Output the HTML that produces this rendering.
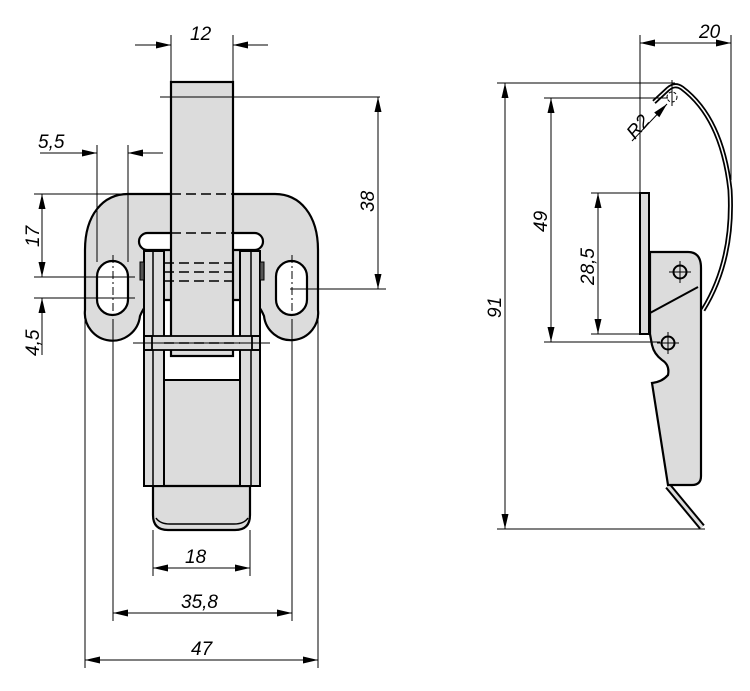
<!DOCTYPE html>
<html><head><meta charset="utf-8"><style>
html,body{margin:0;padding:0;background:#fff;}
svg{display:block}
text{font-family:"Liberation Sans",sans-serif;font-style:italic;font-size:19px;fill:#000}
</style></head><body>
<svg width="750" height="691" viewBox="0 0 750 691" xmlns="http://www.w3.org/2000/svg">
<g fill="none" stroke="#000" stroke-width="1">
<!-- ===== LEFT VIEW ===== -->
<path d="M128,194 L275,194 C300,194 318,215 318,250 L318,310 A27,27 0 0 1 264,316 Q258,302 250,300 L154,300 Q146,302 140,316 A27,27 0 0 1 85,310 L85,250 C85,215 103,194 128,194 Z" fill="#dcdcdc" stroke-width="2.2"/>
<rect x="139" y="233" width="124" height="17" rx="8.5" fill="#fff" stroke-width="2.2"/>
<rect x="97" y="261" width="31" height="54" rx="15.5" fill="#fff" stroke-width="2.2"/>
<rect x="276" y="261" width="31" height="54" rx="15.5" fill="#fff" stroke-width="2.2"/>
<rect x="164" y="380" width="76" height="106" fill="#dcdcdc" stroke-width="2"/>
<path d="M153,486 L250,486 L250,515 Q250,530 235,530 L168,530 Q153,530 153,515 Z" fill="#dcdcdc" stroke-width="2.2"/>
<path d="M156,518 Q160,524 170,524 L234,524 Q244,524 248,518" stroke-width="1.5"/>
<rect x="144" y="251" width="20" height="235" fill="#dcdcdc" stroke-width="2"/>
<line x1="153" y1="251" x2="153" y2="486" stroke-width="1.5"/>
<rect x="240" y="251" width="20" height="235" fill="#dcdcdc" stroke-width="2"/>
<line x1="251" y1="251" x2="251" y2="486" stroke-width="1.5"/>
<rect x="140" y="262" width="4" height="18" fill="#555" stroke-width="1"/>
<rect x="260" y="262" width="4" height="18" fill="#555" stroke-width="1"/>
<rect x="171" y="82" width="62" height="274" fill="#dcdcdc" stroke-width="2.2"/>
<rect x="144" y="336" width="116" height="14" fill="#dcdcdc" stroke-width="1.8"/>
<rect x="144" y="336" width="8" height="14" stroke-width="1.8"/>
<rect x="252" y="336" width="8" height="14" stroke-width="1.8"/>
<g stroke-dasharray="10,5" stroke-width="1.5">
<line x1="171" y1="194" x2="233" y2="194"/>
<line x1="171" y1="233" x2="233" y2="233"/>
<line x1="164" y1="263" x2="240" y2="263"/>
<line x1="164" y1="281" x2="240" y2="281"/>
<line x1="164" y1="272" x2="240" y2="272"/>
<line x1="164" y1="343" x2="240" y2="343"/>
</g>
<line x1="160" y1="97" x2="380" y2="97"/>
<line x1="113" y1="255" x2="113" y2="320" stroke-dasharray="8,3,2,3"/>
<line x1="292" y1="255" x2="292" y2="320" stroke-dasharray="8,3,2,3"/>
<line x1="133" y1="343" x2="270" y2="343"/>
<line x1="171" y1="35" x2="171" y2="82"/><line x1="233" y1="35" x2="233" y2="82"/>
<line x1="135" y1="45" x2="171" y2="45"/><line x1="268" y1="45" x2="233" y2="45"/>
<line x1="97" y1="145" x2="97" y2="262"/><line x1="128" y1="145" x2="128" y2="262"/>
<line x1="40" y1="153" x2="97" y2="153"/><line x1="163" y1="153" x2="128" y2="153"/>
<line x1="34" y1="194" x2="128" y2="194"/>
<line x1="34" y1="277" x2="135" y2="277"/>
<line x1="34" y1="298" x2="135" y2="298"/>
<line x1="42" y1="194" x2="42" y2="277"/>
<line x1="42" y1="298" x2="42" y2="355"/>
<line x1="290" y1="289" x2="386" y2="289"/>
<line x1="378" y1="97" x2="378" y2="289"/>
<line x1="153" y1="530" x2="153" y2="576"/><line x1="250" y1="530" x2="250" y2="576"/>
<line x1="113" y1="320" x2="113" y2="621"/><line x1="292" y1="320" x2="292" y2="621"/>
<line x1="85" y1="310" x2="85" y2="668"/><line x1="318" y1="310" x2="318" y2="668"/>
<line x1="153" y1="568" x2="250" y2="568"/>
<line x1="113" y1="613" x2="292" y2="613"/>
<line x1="85" y1="660" x2="318" y2="660"/>

<!-- ===== RIGHT VIEW ===== -->
<path d="M654,102 L668,89 Q675,83 682,88 Q722,118 730,190 Q734,260 703,310" stroke-width="5"/>
<path d="M654,102 L668,89 Q675,83 682,88 Q722,118 730,190 Q734,260 703,310" stroke="#fff" stroke-width="1.5"/>
<path d="M668,486 L702,527" stroke-width="7"/>
<path d="M668,486 L702,527" stroke="#ddd" stroke-width="3"/>
<rect x="640" y="193" width="9" height="141" fill="#dcdcdc" stroke-width="2"/>
<path d="M650,252 L688,252 Q701,252 701,268 L701,476 Q701,485 692,485 L668,485 L652,383 Q662,382 668,375 Q670,365 662,360 Q654,354 652,345 L650,334 Z" fill="#dcdcdc" stroke-width="2.2"/>
<path d="M650,313 L698,287" stroke-width="2"/>
<circle cx="680" cy="272" r="6.5" stroke-width="2"/>
<line x1="669" y1="272" x2="691" y2="272"/><line x1="680" y1="261" x2="680" y2="283"/>
<circle cx="668" cy="343" r="6.5" stroke-width="2"/>
<line x1="657" y1="343" x2="679" y2="343"/><line x1="668" y1="332" x2="668" y2="354"/>
<circle cx="672" cy="97" r="5" stroke-dasharray="3,2"/>
<line x1="672" y1="80" x2="672" y2="106"/>
<line x1="640" y1="35" x2="640" y2="193"/><line x1="731" y1="35" x2="731" y2="180"/>
<line x1="640" y1="43" x2="731" y2="43"/>
<line x1="497" y1="83" x2="675" y2="83"/><line x1="497" y1="529" x2="705" y2="529"/>
<line x1="505" y1="83" x2="505" y2="529"/>
<line x1="544" y1="98" x2="668" y2="98"/><line x1="544" y1="342" x2="660" y2="342"/>
<line x1="551" y1="98" x2="551" y2="342"/>
<line x1="591" y1="193" x2="640" y2="193"/><line x1="591" y1="334" x2="640" y2="334"/>
<line x1="598" y1="193" x2="598" y2="334"/>
<line x1="632" y1="141" x2="667" y2="104"/>
</g>
<!-- arrowheads -->
<g fill="#000" stroke="none">
<polygon points="171,45 156,41.5 156,48.5"/>
<polygon points="233,45 248,41.5 248,48.5"/>
<polygon points="97,153 82,149.5 82,156.5"/>
<polygon points="128,153 143,149.5 143,156.5"/>
<polygon points="42,194 38.5,209 45.5,209"/>
<polygon points="42,277 38.5,262 45.5,262"/>
<polygon points="42,298 38.5,313 45.5,313"/>
<polygon points="378,97 374.5,112 381.5,112"/>
<polygon points="378,289 374.5,274 381.5,274"/>
<polygon points="153,568 168,564.5 168,571.5"/>
<polygon points="250,568 235,564.5 235,571.5"/>
<polygon points="113,613 128,609.5 128,616.5"/>
<polygon points="292,613 277,609.5 277,616.5"/>
<polygon points="85,660 100,656.5 100,663.5"/>
<polygon points="318,660 303,656.5 303,663.5"/>
<polygon points="640,43 655,39.5 655,46.5"/>
<polygon points="731,43 716,39.5 716,46.5"/>
<polygon points="505,83 501.5,98 508.5,98"/>
<polygon points="505,529 501.5,514 508.5,514"/>
<polygon points="551,98 547.5,113 554.5,113"/>
<polygon points="551,342 547.5,327 554.5,327"/>
<polygon points="598,193 594.5,208 601.5,208"/>
<polygon points="598,334 594.5,319 601.5,319"/>
<polygon points="667,104 654.2,112.5 659.3,117.3"/>
</g>
<!-- labels -->
<text x="190" y="40">12</text>
<text x="38" y="148">5,5</text>
<text transform="translate(39,247) rotate(-90)">17</text>
<text transform="translate(39,356) rotate(-90)">4,5</text>
<text transform="translate(374,212) rotate(-90)">38</text>
<text x="185" y="563">18</text>
<text x="181" y="608">35,8</text>
<text x="191" y="655">47</text>
<text x="699" y="38">20</text>
<text transform="translate(501,318) rotate(-90)">91</text>
<text transform="translate(547,232) rotate(-90)">49</text>
<text transform="translate(594,285) rotate(-90)">28,5</text>
<text transform="translate(635,140) rotate(-50)">R2</text>
</svg>
</body></html>
